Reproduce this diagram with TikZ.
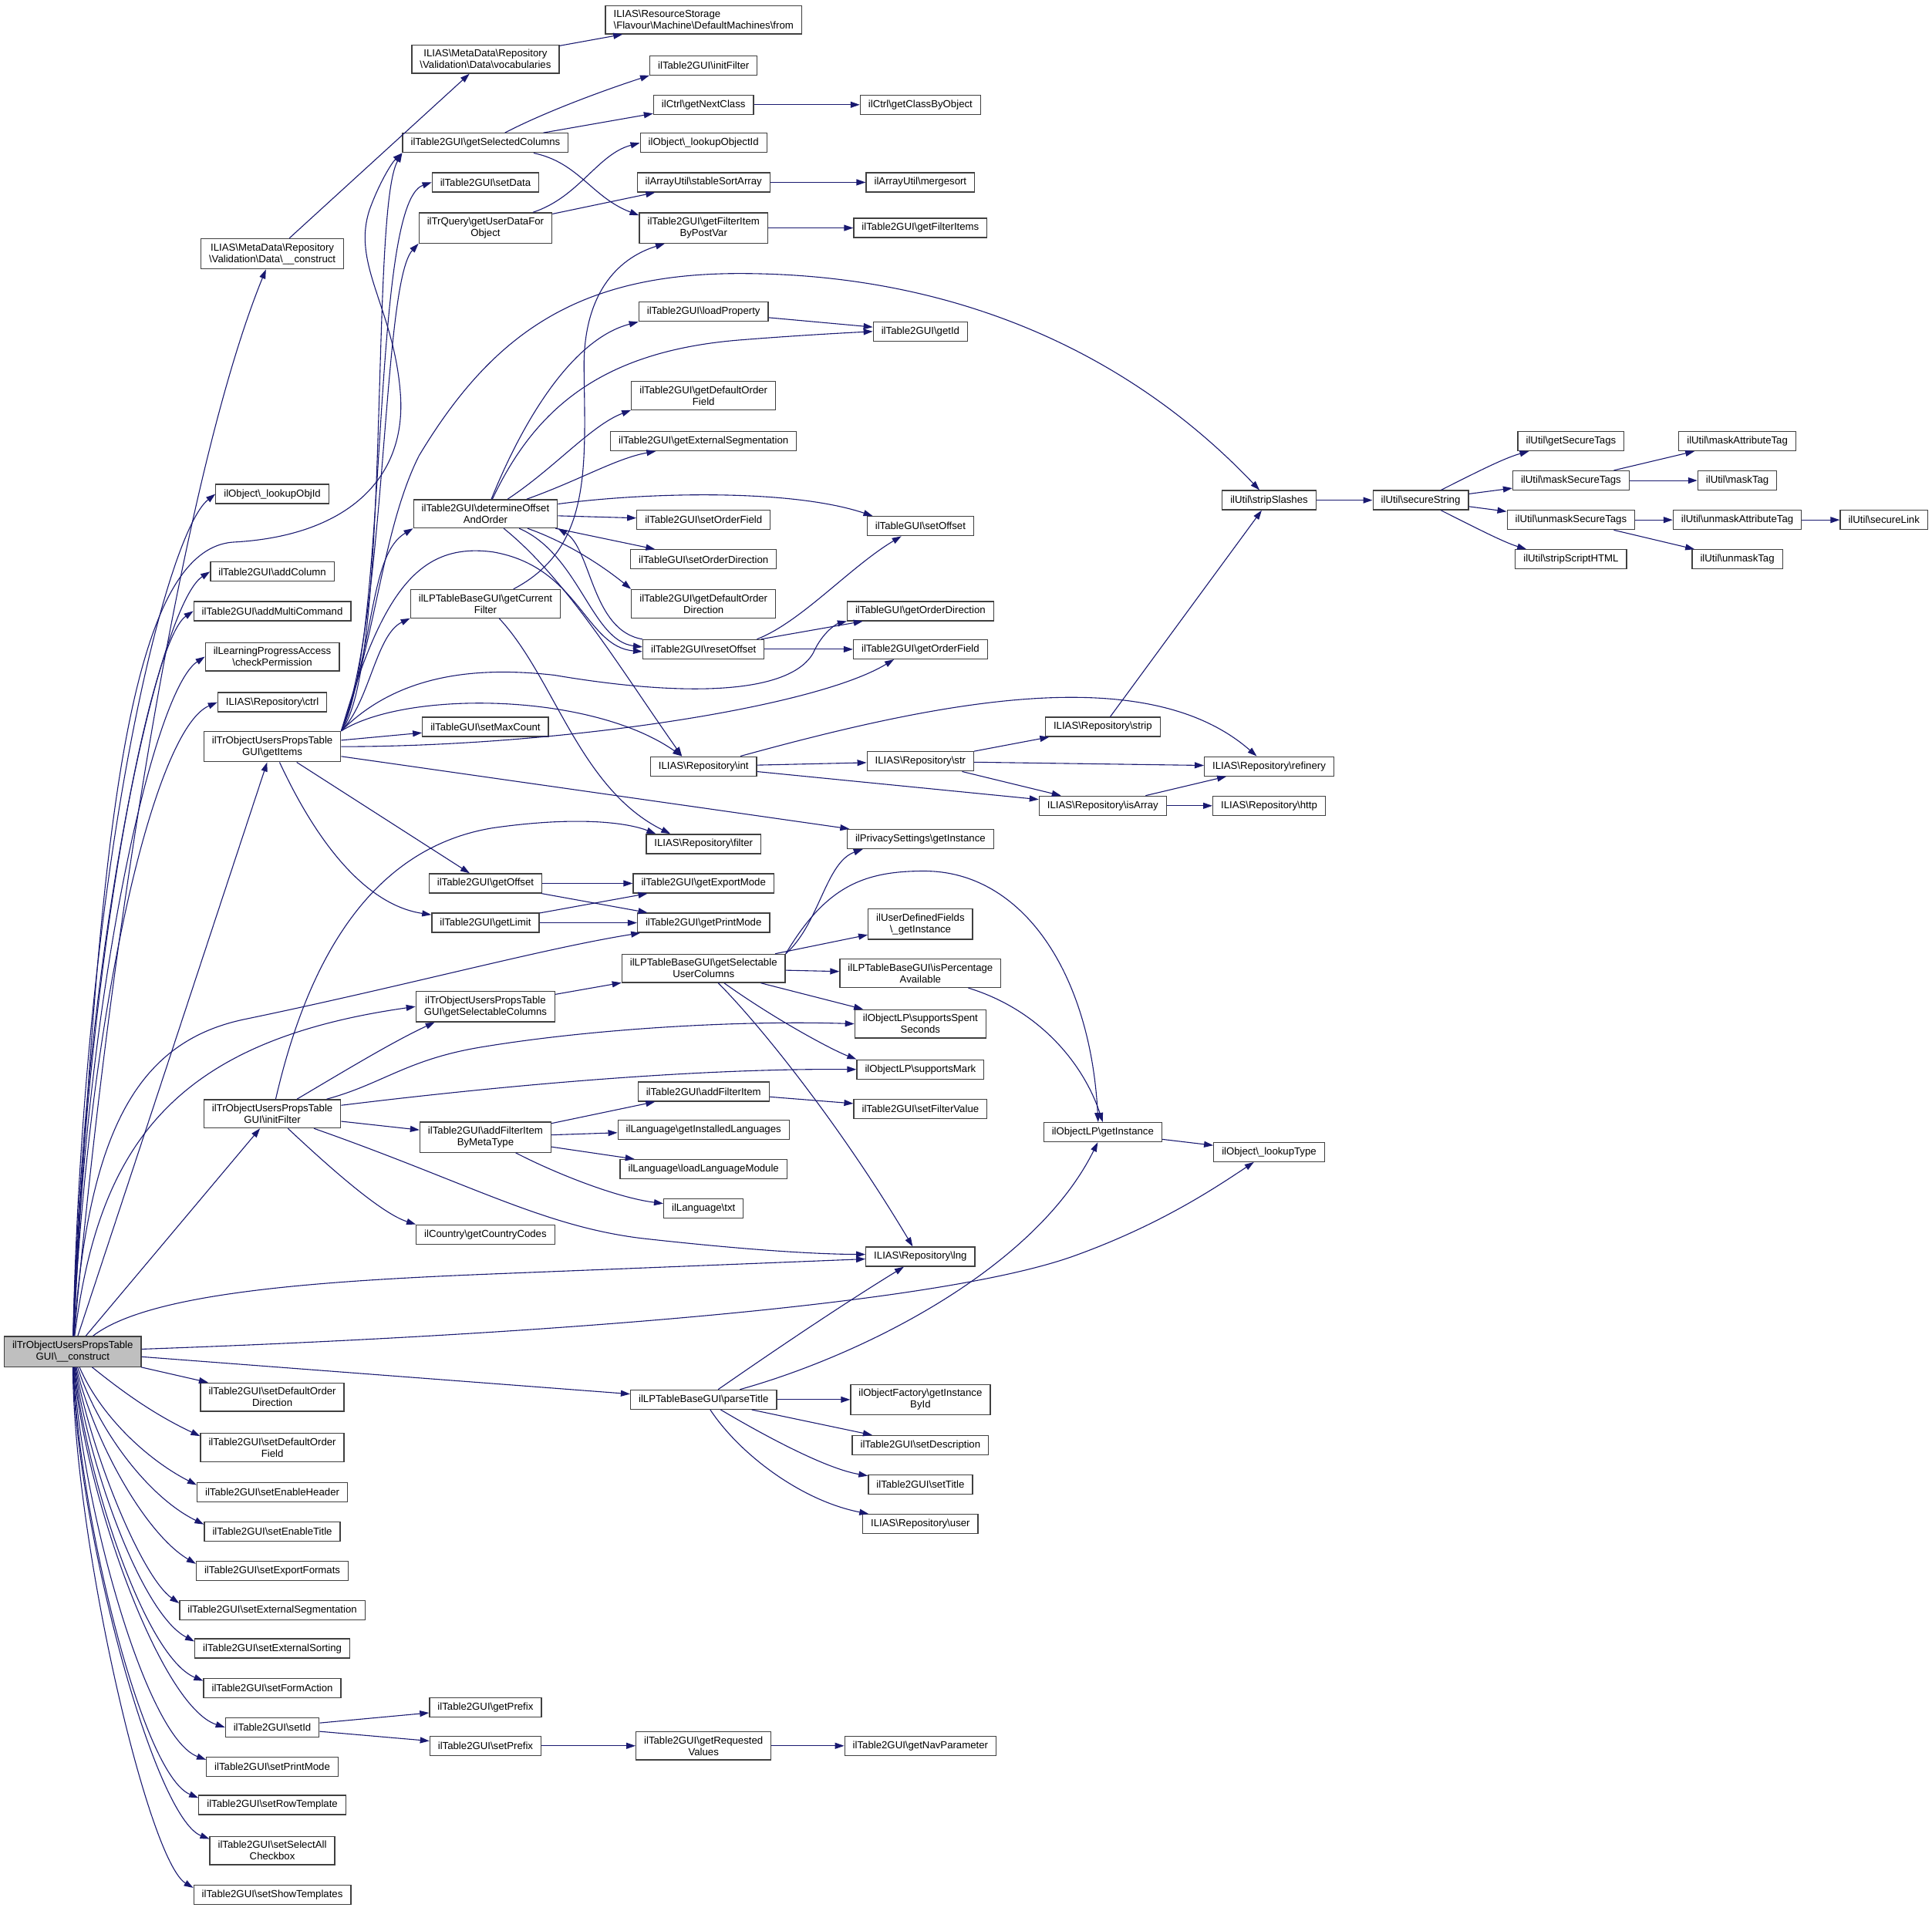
\documentclass[tikz,border=0pt]{standalone}
\usepackage{fontspec}
\setmainfont{Liberation Sans}
\usetikzlibrary{arrows.meta}
\newcommand\bsl{\textbackslash}
\definecolor{edge_blue}{RGB}{25,25,112}
\definecolor{node_gray}{RGB}{64,64,64}
\definecolor{node_main}{RGB}{191,191,191}

\begin{document}
\begin{tikzpicture}[x=1.5976pt,y=-1.5976pt,>={Triangle[length=12pt,width=8pt]}]
    \tikzstyle{fn}=[draw=node_gray, line width=1.3pt, rectangle, fill=white, align=center, inner xsep=10.5pt, inner ysep=6pt, minimum height=25pt, font=\fontsize{13.2}{15}\selectfont]
    \tikzstyle{root}=[style=fn, fill=node_main]
    \tikzstyle{dep}=[->, color=edge_blue, line width=1.1pt]
    \useasboundingbox (0,0) rectangle (1568,1550.5);

    % caller
    \node[root] (main) at (59,1097) {ilTrObjectUsersPropsTable\\GUI\bsl\_\_construct};

    % column 1
    \node[fn] (vdc)            at (221,206)  {ILIAS\bsl MetaData\bsl Repository\\\bsl Validation\bsl Data\bsl\_\_construct};
    \node[fn] (lookupObjId)    at (221,401)  {ilObject\bsl\_lookupObjId};
    \node[fn] (addColumn)      at (221,464)  {ilTable2GUI\bsl addColumn};
    \node[fn] (addMultiCmd)    at (221,496)  {ilTable2GUI\bsl addMultiCommand};
    \node[fn] (checkPerm)      at (221,533)  {ilLearningProgressAccess\\\bsl checkPermission};
    \node[fn] (repCtrl)        at (221,570)  {ILIAS\bsl Repository\bsl ctrl};
    \node[fn] (getItems)       at (221,606)  {ilTrObjectUsersPropsTable\\GUI\bsl getItems};
    \node[fn] (initFilterT)    at (221,904)  {ilTrObjectUsersPropsTable\\GUI\bsl initFilter};
    \node[fn] (setDefOrdDir)   at (221,1134) {ilTable2GUI\bsl setDefaultOrder\\Direction};
    \node[fn] (setDefOrdField) at (221,1175) {ilTable2GUI\bsl setDefaultOrder\\Field};
    \node[fn] (setEnHeader)    at (221,1211) {ilTable2GUI\bsl setEnableHeader};
    \node[fn] (setEnTitle)     at (221,1243) {ilTable2GUI\bsl setEnableTitle};
    \node[fn] (setExpFormats)  at (221,1275) {ilTable2GUI\bsl setExportFormats};
    \node[fn] (setExtSeg)      at (221,1307) {ilTable2GUI\bsl setExternalSegmentation};
    \node[fn] (setExtSort)     at (221,1338) {ilTable2GUI\bsl setExternalSorting};
    \node[fn] (setFormAction)  at (221,1370) {ilTable2GUI\bsl setFormAction};
    \node[fn] (setId)          at (221,1402) {ilTable2GUI\bsl setId};
    \node[fn] (setPrintMode)   at (221,1434) {ilTable2GUI\bsl setPrintMode};
    \node[fn] (setRowTpl)      at (221,1465) {ilTable2GUI\bsl setRowTemplate};
    \node[fn] (setSelAll)      at (221,1502) {ilTable2GUI\bsl setSelectAll\\Checkbox};
    \node[fn] (setShowTpl)     at (221,1538) {ilTable2GUI\bsl setShowTemplates};

    % column 2
    \node[fn] (vocab)        at (394,48)   {ILIAS\bsl MetaData\bsl Repository\\\bsl Validation\bsl Data\bsl vocabularies};
    \node[fn] (getSelCols)   at (394,116)  {ilTable2GUI\bsl getSelectedColumns};
    \node[fn] (setData)      at (394,148)  {ilTable2GUI\bsl setData};
    \node[fn] (getUserData)  at (394,185)  {ilTrQuery\bsl getUserDataFor\\Object};
    \node[fn] (detOffset)    at (394,417)  {ilTable2GUI\bsl determineOffset\\AndOrder};
    \node[fn] (getCurFilter) at (394,490)  {ilLPTableBaseGUI\bsl getCurrent\\Filter};
    \node[fn] (setMaxCount)  at (394,590)  {ilTableGUI\bsl setMaxCount};
    \node[fn] (getOffset)    at (394,717)  {ilTable2GUI\bsl getOffset};
    \node[fn] (getLimit)     at (394,749)  {ilTable2GUI\bsl getLimit};
    \node[fn] (getSelColsT)  at (394,817)  {ilTrObjectUsersPropsTable\\GUI\bsl getSelectableColumns};
    \node[fn] (addFiltMeta)  at (394,923)  {ilTable2GUI\bsl addFilterItem\\ByMetaType};
    \node[fn] (countryCodes) at (394,1002) {ilCountry\bsl getCountryCodes};
    \node[fn] (getPrefix)    at (394,1386) {ilTable2GUI\bsl getPrefix};
    \node[fn] (setPrefix)    at (394,1417) {ilTable2GUI\bsl setPrefix};

    % column 3
    \node[fn,align=left] (dmFrom) at (571,16) {ILIAS\bsl ResourceStorage\\\bsl Flavour\bsl Machine\bsl DefaultMachines\bsl from};
    \node[fn] (initFilter2)    at (571,53)   {ilTable2GUI\bsl initFilter};
    \node[fn] (getNextClass)   at (571,85)   {ilCtrl\bsl getNextClass};
    \node[fn] (lookupObjectId) at (571,116)  {ilObject\bsl\_lookupObjectId};
    \node[fn] (stableSort)     at (571,148)  {ilArrayUtil\bsl stableSortArray};
    \node[fn] (getFiltPost)    at (571,185)  {ilTable2GUI\bsl getFilterItem\\ByPostVar};
    \node[fn] (loadProperty)   at (571,253)  {ilTable2GUI\bsl loadProperty};
    \node[fn] (getDefOrdField) at (571,321)  {ilTable2GUI\bsl getDefaultOrder\\Field};
    \node[fn] (getExtSeg)      at (571,358)  {ilTable2GUI\bsl getExternalSegmentation};
    \node[fn] (setOrderField)  at (571,422)  {ilTable2GUI\bsl setOrderField};
    \node[fn] (setOrderDir)    at (571,454)  {ilTableGUI\bsl setOrderDirection};
    \node[fn] (getDefOrdDir)   at (571,490)  {ilTable2GUI\bsl getDefaultOrder\\Direction};
    \node[fn] (resetOffset)    at (571,527)  {ilTable2GUI\bsl resetOffset};
    \node[fn] (repInt)         at (571,622)  {ILIAS\bsl Repository\bsl int};
    \node[fn] (repFilter)      at (571,685)  {ILIAS\bsl Repository\bsl filter};
    \node[fn] (getExportMode)  at (571,717)  {ilTable2GUI\bsl getExportMode};
    \node[fn] (getPrintMode)   at (571,749)  {ilTable2GUI\bsl getPrintMode};
    \node[fn] (getSelUserCols) at (571,786)  {ilLPTableBaseGUI\bsl getSelectable\\UserColumns};
    \node[fn] (addFilterItem)  at (571,886)  {ilTable2GUI\bsl addFilterItem};
    \node[fn] (getInstLang)    at (571,917)  {ilLanguage\bsl getInstalledLanguages};
    \node[fn] (loadLangMod)    at (571,949)  {ilLanguage\bsl loadLanguageModule};
    \node[fn] (langTxt)        at (571,981)  {ilLanguage\bsl txt};
    \node[fn] (parseTitle)     at (571,1136) {ilLPTableBaseGUI\bsl parseTitle};
    \node[fn] (getReqValues)   at (571,1417) {ilTable2GUI\bsl getRequested\\Values};

    % column 4
    \node[fn] (getClassByObj)  at (747,85)   {ilCtrl\bsl getClassByObject};
    \node[fn] (mergesort)      at (747,148)  {ilArrayUtil\bsl mergesort};
    \node[fn] (getFilterItems) at (747,185)  {ilTable2GUI\bsl getFilterItems};
    \node[fn] (getId)          at (747,269)  {ilTable2GUI\bsl getId};
    \node[fn] (setOffset)      at (747,427)  {ilTableGUI\bsl setOffset};
    \node[fn] (getOrderDir)    at (747,496)  {ilTableGUI\bsl getOrderDirection};
    \node[fn] (getOrderField)  at (747,527)  {ilTable2GUI\bsl getOrderField};
    \node[fn] (repStr)         at (747,618)  {ILIAS\bsl Repository\bsl str};
    \node[fn] (privacy)        at (747,681)  {ilPrivacySettings\bsl getInstance};
    \node[fn] (udfInst)        at (747,750)  {ilUserDefinedFields\\\bsl\_getInstance};
    \node[fn] (isPercent)      at (747,790)  {ilLPTableBaseGUI\bsl isPercentage\\Available};
    \node[fn] (spentSec)       at (747,831)  {ilObjectLP\bsl supportsSpent\\Seconds};
    \node[fn] (supMark)        at (747,868)  {ilObjectLP\bsl supportsMark};
    \node[fn] (setFilterValue) at (747,900)  {ilTable2GUI\bsl setFilterValue};
    \node[fn] (repLng)         at (747,1020) {ILIAS\bsl Repository\bsl lng};
    \node[fn] (getInstById)    at (747,1136) {ilObjectFactory\bsl getInstance\\ById};
    \node[fn] (setDescr)       at (747,1173) {ilTable2GUI\bsl setDescription};
    \node[fn] (setTitle)       at (747,1205) {ilTable2GUI\bsl setTitle};
    \node[fn] (repUser)        at (747,1237) {ILIAS\bsl Repository\bsl user};
    \node[fn] (getNavParam)    at (747,1417) {ilTable2GUI\bsl getNavParameter};

    % columns 5 and 6
    \node[fn] (repStrip)     at (895,590)  {ILIAS\bsl Repository\bsl strip};
    \node[fn] (repIsArray)   at (895,654)  {ILIAS\bsl Repository\bsl isArray};
    \node[fn] (objLPInst)    at (895,919)  {ilObjectLP\bsl getInstance};
    \node[fn] (stripSlashes) at (1030,406) {ilUtil\bsl stripSlashes};
    \node[fn] (repRefinery)  at (1030,622) {ILIAS\bsl Repository\bsl refinery};
    \node[fn] (repHttp)      at (1030,654) {ILIAS\bsl Repository\bsl http};
    \node[fn] (lookupType)   at (1030,935) {ilObject\bsl\_lookupType};

    % ilUtil chain
    \node[fn] (secureString)  at (1153,406) {ilUtil\bsl secureString};
    \node[fn] (getSecureTags) at (1275,358) {ilUtil\bsl getSecureTags};
    \node[fn] (maskSecTags)   at (1275,390) {ilUtil\bsl maskSecureTags};
    \node[fn] (unmaskSecTags) at (1275,422) {ilUtil\bsl unmaskSecureTags};
    \node[fn] (stripScript)   at (1275,454) {ilUtil\bsl stripScriptHTML};
    \node[fn] (maskAttrTag)   at (1410,358) {ilUtil\bsl maskAttributeTag};
    \node[fn] (maskTag)       at (1410,390) {ilUtil\bsl maskTag};
    \node[fn] (unmaskAttrTag) at (1410,422) {ilUtil\bsl unmaskAttributeTag};
    \node[fn] (unmaskTag)     at (1410,454) {ilUtil\bsl unmaskTag};
    \node[fn] (secureLink)    at (1529,422) {ilUtil\bsl secureLink};

    % straight calls
    \path[dep]
     (main) edge (getItems)
     (main) edge (initFilterT)
     (main) edge (parseTitle)
     (main) edge (setDefOrdDir)
     (vdc) edge (vocab)
     (vocab) edge (dmFrom)
     (getSelCols) edge (getNextClass)
     (getNextClass) edge (getClassByObj)
     (getUserData) edge (stableSort)
     (stableSort) edge (mergesort)
     (getFiltPost) edge (getFilterItems)
     (getItems) edge (setMaxCount)
     (getItems) edge (privacy)
     (getItems) edge (getOffset)
     (detOffset) edge (setOrderField)
     (detOffset) edge (setOrderDir)
     (loadProperty) edge (getId)
     (resetOffset) edge (getOrderDir)
     (resetOffset) edge (getOrderField)
     (repInt) edge (repStr)
     (repInt) edge (repIsArray)
     (repStr) edge (repStrip)
     (repStr) edge (repRefinery)
     (repStr) edge (repIsArray)
     (repStrip) edge (stripSlashes)
     (repIsArray) edge (repRefinery)
     (repIsArray) edge (repHttp)
     (stripSlashes) edge (secureString)
     (secureString) edge (maskSecTags)
     (secureString) edge (unmaskSecTags)
     (maskSecTags) edge (maskAttrTag)
     (maskSecTags) edge (maskTag)
     (unmaskSecTags) edge (unmaskAttrTag)
     (unmaskSecTags) edge (unmaskTag)
     (unmaskAttrTag) edge (secureLink)
     (getOffset) edge (getExportMode)
     (getOffset) edge (getPrintMode)
     (getLimit) edge (getExportMode)
     (getLimit) edge (getPrintMode)
     (getSelColsT) edge (getSelUserCols)
     (getSelUserCols) edge (udfInst)
     (getSelUserCols) edge (isPercent)
     (getSelUserCols) edge (spentSec)
     (initFilterT) edge (addFiltMeta)
     (addFiltMeta) edge (addFilterItem)
     (addFiltMeta) edge (getInstLang)
     (addFiltMeta) edge (loadLangMod)
     (addFilterItem) edge (setFilterValue)
     (parseTitle) edge (getInstById)
     (parseTitle) edge (setDescr)
     (objLPInst) edge (lookupType)
     (setId) edge (getPrefix)
     (setId) edge (setPrefix)
     (setPrefix) edge (getReqValues)
     (getReqValues) edge (getNavParam)
     ;

    % fan out of the constructor
    \draw[dep] (main) .. controls (90,750) and (150,380) .. (vdc);
    \draw[dep] (main) .. controls (68,700) and (135,432) .. (lookupObjId.west);
    \draw[dep] (main) .. controls (68,760) and (130,490) .. (addColumn.west);
    \draw[dep] (main) .. controls (70,780) and (122,520) .. (addMultiCmd.west);
    \draw[dep] (main) .. controls (70,800) and (125,560) .. (checkPerm.west);
    \draw[dep] (main) .. controls (72,820) and (125,592) .. (repCtrl.west);
    \draw[dep] (main) .. controls (80,700) and (100,445) .. (190,440) .. controls (280,435) and (330,390) .. (325,320)
        .. controls (320,250) and (285,215) .. (300,170) .. controls (308,148) and (318,132) .. (getSelCols.south west);
    \draw[dep] (main) .. controls (80,930) and (140,845) .. (getSelColsT.west);
    \draw[dep] (main) .. controls (72,920) and (110,845) .. (200,827) .. controls (330,800) and (440,770) .. (getPrintMode);
    \draw[dep] (main) .. controls (120,1050) and (250,1040) .. (400,1034) .. controls (550,1028) and (650,1024) .. ([yshift=-3pt]repLng.west);
    \draw[dep] (main) .. controls (400,1085) and (750,1062) .. (870,1020) .. controls (940,995) and (985,965) .. (lookupType);
    \draw[dep] (main) .. controls (100,1130) and (125,1148) .. ([yshift=-4pt]setDefOrdField.north west);
    \draw[dep] (main) .. controls (82,1150) and (120,1185) .. ([yshift=-4pt]setEnHeader.north west);
    \draw[dep] (main) .. controls (79,1160) and (120,1215) .. ([yshift=-4pt]setEnTitle.north west);
    \draw[dep] (main) .. controls (76,1170) and (118,1245) .. ([yshift=-4pt]setExpFormats.north west);
    \draw[dep] (main) .. controls (74,1180) and (115,1280) .. ([yshift=-4pt]setExtSeg.north west);
    \draw[dep] (main) .. controls (72,1190) and (115,1310) .. ([yshift=-4pt]setExtSort.north west);
    \draw[dep] (main) .. controls (70,1200) and (118,1345) .. ([yshift=-4pt]setFormAction.north west);
    \draw[dep] (main) .. controls (68,1210) and (130,1385) .. (setId.west);
    \draw[dep] (main) .. controls (66,1220) and (118,1410) .. ([yshift=-4pt]setPrintMode.north west);
    \draw[dep] (main) .. controls (64,1230) and (115,1440) .. ([yshift=-4pt]setRowTpl.north west);
    \draw[dep] (main) .. controls (62,1240) and (125,1475) .. ([yshift=-4pt]setSelAll.north west);
    \draw[dep] (main) .. controls (60,1250) and (120,1510) .. ([yshift=-4pt]setShowTpl.north west);

    % getItems
    \draw[dep] (getItems.north east) .. controls (318,540) and (300,170) .. (getSelCols.south west);
    \draw[dep] (getItems.north east) .. controls (316,520) and (300,165) .. (setData.west);
    \draw[dep] (getItems.north east) .. controls (314,500) and (310,230) .. (getUserData.south west);
    \draw[dep] (getItems.north east) .. controls (305,520) and (300,450) .. (detOffset.south west);
    \draw[dep] (getItems.north east) .. controls (300,570) and (305,515) .. (getCurFilter.south west);
    \draw[dep] (getItems.north east) .. controls (310,480) and (340,440) .. (400,448) .. controls (470,460) and (475,525) .. ([yshift=-3pt]resetOffset.west);
    \draw[dep] (getItems.north east) .. controls (330,560) and (480,562) .. ([xshift=-28pt]repInt.north);
    \draw[dep] (getItems.north east) .. controls (320,550) and (380,540) .. (450,548) .. controls (550,565) and (640,565) .. (660,530)
        .. controls (668,512) and (680,506) .. (getOrderDir.south west);
    \draw[dep] (getItems) .. controls (450,606) and (660,575) .. (getOrderField.201);
    \draw[dep] (getItems) .. controls (260,690) and (300,735) .. (getLimit);
    \draw[dep] (getItems.north east) .. controls (305,520) and (310,430) .. (340,370) .. controls (400,270) and (470,222) .. (600,222)
        .. controls (780,222) and (920,290) .. (stripSlashes);

    % table internals
    \draw[dep] (getSelCols) .. controls (440,92) and (485,75) .. (initFilter2.south west);
    \draw[dep] (getSelCols) .. controls (470,132) and (480,160) .. ([yshift=-4pt]getFiltPost.north west);
    \draw[dep] (getUserData) .. controls (470,160) and (485,125) .. (lookupObjectId.west);
    \draw[dep] (getCurFilter) .. controls (480,445) and (475,380) .. (474,300) .. controls (473,240) and (500,210) .. (getFiltPost.202);
    \draw[dep] (getCurFilter) .. controls (450,550) and (470,640) .. (repFilter.163);
    \draw[dep] (detOffset) .. controls (425,340) and (465,275) .. (loadProperty.south west);
    \draw[dep] (detOffset) .. controls (435,330) and (490,285) .. (600,276) .. controls (650,272) and (690,270) .. (getId.west);
    \draw[dep] (detOffset) .. controls (450,380) and (480,345) .. (getDefOrdField.south west);
    \draw[dep] (detOffset) .. controls (470,390) and (500,372) .. (getExtSeg.192);
    \draw[dep] (detOffset) .. controls (520,400) and (640,396) .. (setOffset.168);
    \draw[dep] (detOffset) .. controls (460,440) and (490,460) .. (getDefOrdDir.north west);
    \draw[dep] (detOffset) .. controls (470,450) and (480,520) .. ([yshift=3pt]resetOffset.west);
    \draw[dep] (detOffset) .. controls (460,470) and (505,545) .. ([xshift=-28pt]repInt.north);
    \draw[dep] (resetOffset.north west) .. controls (480,512) and (480,445) .. (detOffset.south east);
    \draw[dep] ([xshift=-10pt]resetOffset.north east) .. controls (650,505) and (690,460) .. (setOffset.208);
    \draw[dep] (repInt) .. controls (760,570) and (930,535) .. ([xshift=-16pt]repRefinery.north);
    \draw[dep] (secureString) .. controls (1195,385) and (1220,372) .. ([xshift=15pt]getSecureTags.south west);
    \draw[dep] (secureString) .. controls (1195,427) and (1220,440) .. ([xshift=15pt]stripScript.north west);

    % filters and columns
    \draw[dep] (initFilterT) .. controls (245,800) and (290,690) .. (400,672) .. controls (470,662) and (510,668) .. (repFilter.168);
    \draw[dep] (initFilterT) .. controls (285,866) and (320,845) .. ([xshift=25pt]getSelColsT.south west);
    \draw[dep] (initFilterT) .. controls (310,880) and (330,860) .. (390,850) .. controls (480,835) and (600,828) .. (spentSec.west);
    \draw[dep] (initFilterT) .. controls (400,882) and (560,867) .. (supMark.west);
    \draw[dep] (initFilterT) .. controls (270,950) and (310,985) .. (countryCodes.north west);
    \draw[dep] (initFilterT) .. controls (380,960) and (440,995) .. (520,1005) .. controls (600,1014) and (660,1018) .. ([yshift=3pt]repLng.west);
    \draw[dep] (addFiltMeta) .. controls (450,952) and (500,972) .. (langTxt);
    \draw[dep] (getSelUserCols.north east) .. controls (665,750) and (670,700) .. (privacy.190);
    \draw[dep] (getSelUserCols.north east) .. controls (670,720) and (700,707) .. (750,707) .. controls (830,707) and (885,790) .. ([xshift=-6pt]objLPInst.north);
    \draw[dep] (isPercent) .. controls (845,820) and (880,865) .. (objLPInst.north);
    \draw[dep] (getSelUserCols) .. controls (630,828) and (675,852) .. (supMark.north west);
    \draw[dep] (getSelUserCols) .. controls (615,830) and (680,910) .. ([xshift=-10pt]repLng.north);

    % title
    \draw[dep] (parseTitle) .. controls (630,1095) and (685,1058) .. (repLng);
    \draw[dep] (parseTitle) .. controls (700,1100) and (840,1030) .. (objLPInst);
    \draw[dep] (parseTitle) .. controls (620,1165) and (670,1192) .. (setTitle);
    \draw[dep] (parseTitle) .. controls (600,1180) and (650,1218) .. (repUser);
\end{tikzpicture}
\end{document}
